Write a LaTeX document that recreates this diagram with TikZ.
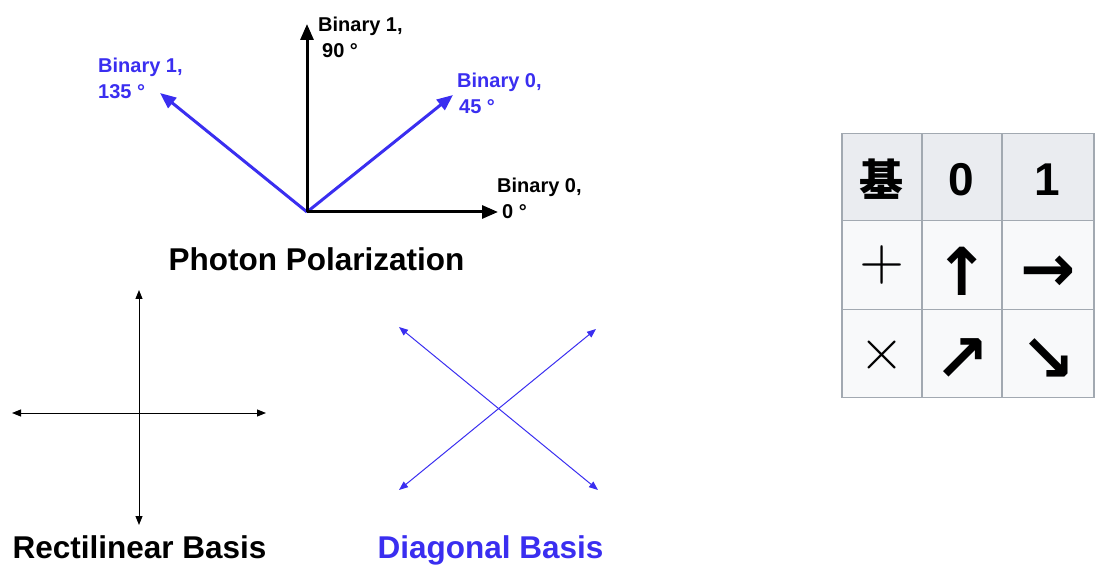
\documentclass[tikz,border=0pt]{standalone}
\usepackage{fontspec}
\setmainfont{Liberation Sans}
\newfontfamily\cjk{Noto Sans CJK SC}
\newfontfamily\djv{DejaVu Sans}
\usetikzlibrary{arrows.meta}
\definecolor{pblue}{HTML}{3A2EF0}
\definecolor{hdrgray}{HTML}{EAECF0}
\definecolor{cellgray}{HTML}{F8F9FA}
\definecolor{gridgray}{HTML}{A2A9B1}
\begin{document}
\begin{tikzpicture}[x=1pt,y=-1pt,
  lbl/.style={font=\fontsize{20}{26}\selectfont\bfseries, inner sep=0pt, align=left, anchor=north west},
  title/.style={font=\fontsize{31.5}{36}\selectfont\bfseries, inner sep=0pt, anchor=base},
  vec/.style={line width=3pt, -{Triangle[length=16pt,width=13pt]}},
  axis/.style={line width=1pt, {Triangle[length=9pt,width=7pt]}-{Triangle[length=9pt,width=7pt]}},
  cell/.style={draw=gridgray, line width=1.5pt, minimum width=80pt, minimum height=88pt, inner sep=0pt, anchor=north west},
  hdr/.style={font=\fontsize{46}{50}\selectfont\bfseries},
  sym/.style={font=\djv\bfseries\fontsize{66}{70}\selectfont, inner sep=0pt},
  thin/.style={scale=5.8, inner sep=0pt}
]
\useasboundingbox (0,0) rectangle (1101,585);

% ---------- Photon polarization ----------
\coordinate (O) at (307,212);
\coordinate (t90) at (307,24);
\coordinate (t0) at (498,212);
\coordinate (t45) at (453,95);
\coordinate (t135) at (160,93);
\draw[vec, pblue] (O) -- (t45);
\draw[vec, pblue] (O) -- (t135);
\draw[vec, black] (O) -- (t90);
\draw[vec, black] (O) -- (t0);

\node[lbl] (l90) at (318,17) {Binary 1,\\\hspace{4pt}90 °};
\node[lbl, text=pblue] (l135) at (98,58) {Binary 1,\\135 °};
\node[lbl, text=pblue] (l45) at (457,73) {Binary 0,\\\hspace{2pt}45 °};
\node[lbl] (l0) at (497,178) {Binary 0,\\\hspace{5pt}0 °};
\node[title] (tPP) at (316.5,271) {Photon Polarization};

% ---------- Rectilinear basis ----------
\coordinate (rt) at (139,290);
\coordinate (rb) at (139,525);
\coordinate (rl) at (12,413);
\coordinate (rr) at (266,413);
\draw[axis] (rt) -- (rb);
\draw[axis] (rl) -- (rr);
\node[title] (tRB) at (139.5,558) {Rectilinear Basis};

% ---------- Diagonal basis ----------
\coordinate (d1) at (399,327);
\coordinate (d2) at (598,490);
\coordinate (d3) at (596,329);
\coordinate (d4) at (399,490);
\draw[axis, pblue] (d1) -- (d2);
\draw[axis, pblue] (d3) -- (d4);
\node[title, text=pblue] (tDB) at (490.5,558) {Diagonal Basis};

% ---------- Table ----------
\node[cell, fill=hdrgray, minimum height=87pt] (h1) at (841,133) {};
\node[cell, fill=hdrgray, minimum height=87pt] (h2) at (921,133) {};
\node[cell, fill=hdrgray, minimum height=87pt, minimum width=92pt] (h3) at (1001,133) {};
\node[cell, fill=cellgray, minimum height=89pt] (a1) at (841,220) {};
\node[cell, fill=cellgray, minimum height=89pt] (a2) at (921,220) {};
\node[cell, fill=cellgray, minimum height=89pt, minimum width=92pt] (a3) at (1001,220) {};
\node[cell, fill=cellgray] (b1) at (841,309) {};
\node[cell, fill=cellgray] (b2) at (921,309) {};
\node[cell, fill=cellgray, minimum width=92pt] (b3) at (1001,309) {};

\node[hdr, font=\cjk\bfseries\fontsize{44}{50}\selectfont] at ([yshift=-2pt]h1.center) {基};
\node[hdr] at ([yshift=-2pt]h2.center) {0};
\node[hdr] at ([yshift=-2pt]h3.center) {1};

\node[thin] at (a1.center) {$+$};
\node[sym] at ([yshift=-6pt]a2.center) {↑};
\node[sym] at ([xshift=0pt,yshift=-8pt]a3.center) {→};
\node[thin] at ([yshift=-1pt]b1.center) {$\times$};
\node[sym] at ([yshift=-6pt]b2.center) {↗};
\node[sym] at ([yshift=-6pt]b3.center) {↘};
\end{tikzpicture}
\end{document}
